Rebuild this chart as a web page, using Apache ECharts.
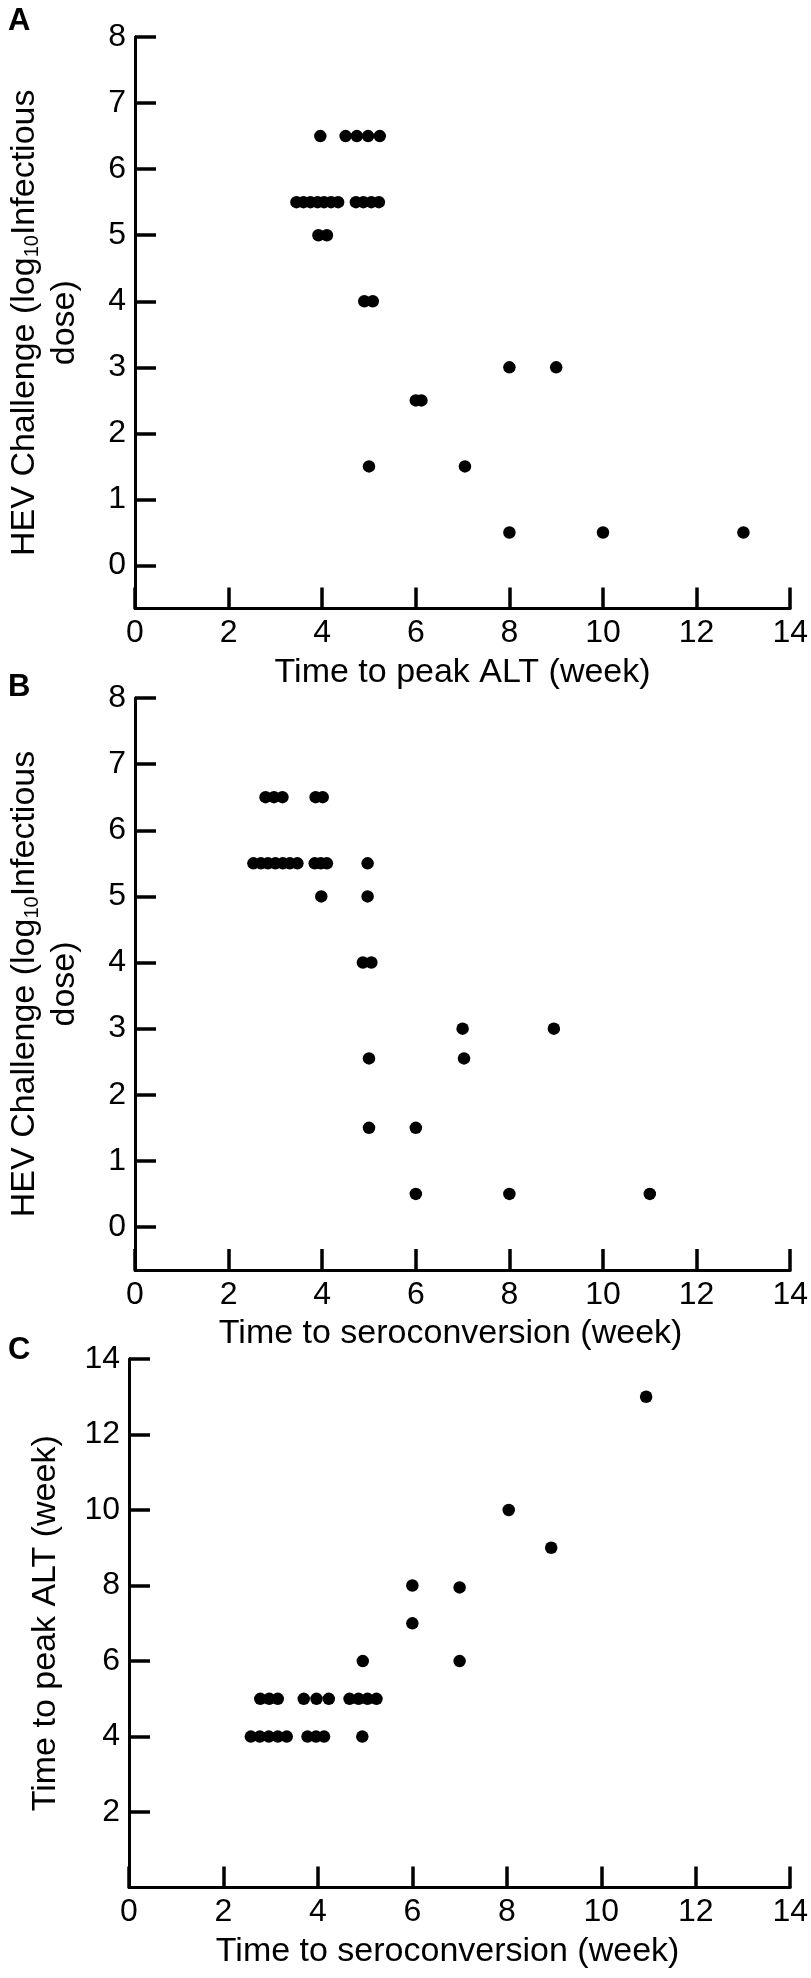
<!DOCTYPE html>
<html>
<head>
<meta charset="utf-8">
<script src="https://cdn.jsdelivr.net/npm/echarts@6/dist/echarts.min.js"></script>
<style>
html,body{margin:0;padding:0;background:#fff;}
#chart{width:811px;height:1978px;}
</style>
</head>
<body>
<div id="chart"></div>
<script>
// ---- Panel A: Time to peak ALT (x) vs HEV challenge dose (y)
const aPeakALT = [3.96, 4.5, 4.74, 4.98, 5.23,
  3.45, 3.6, 3.75, 3.9, 4.04, 4.19, 4.34, 4.72, 4.88, 5.05, 5.21,
  3.92, 4.1,
  4.9, 5.08,
  8, 9,
  6, 6.12,
  5, 7.05,
  8, 10, 13];
const aDose = [6.5, 6.5, 6.5, 6.5, 6.5,
  5.5, 5.5, 5.5, 5.5, 5.5, 5.5, 5.5, 5.5, 5.5, 5.5, 5.5,
  5, 5,
  4, 4,
  3, 3,
  2.5, 2.5,
  1.5, 1.5,
  0.5, 0.5, 0.5];

// ---- Panel B: Time to seroconversion (x) vs HEV challenge dose (y)
const bSero = [2.79, 2.97, 3.15, 3.86, 4.01,
  2.53, 2.69, 2.84, 3.0, 3.16, 3.31, 3.47, 3.84, 3.97, 4.1, 4.97,
  3.98, 4.97,
  4.87, 5.05,
  7, 8.95,
  5, 7.03,
  5, 6,
  6, 8, 11];
const bDose = [6.5, 6.5, 6.5, 6.5, 6.5,
  5.5, 5.5, 5.5, 5.5, 5.5, 5.5, 5.5, 5.5, 5.5, 5.5, 5.5,
  5, 5,
  4, 4,
  3, 3,
  2.55, 2.55,
  1.5, 1.5,
  0.5, 0.5, 0.5];

// ---- Panel C: Time to seroconversion (x) vs time to peak ALT (y)
const cSero = [2.78, 2.97, 3.15, 3.7, 3.97, 4.23, 4.67, 4.86, 5.05, 5.24,
  2.58, 2.77, 2.96, 3.15, 3.34, 3.78, 3.96, 4.13, 4.94,
  4.95, 6, 7, 6, 7, 8.04, 8.94, 10.95];
const cPeakALT = [5, 5, 5, 5, 5, 5, 5, 5, 5, 5,
  4, 4, 4, 4, 4, 4, 4, 4, 4,
  6, 8, 7.95, 7, 6, 10, 9, 13];

// ---- Axis tick labels
const xTicks = [0, 2, 4, 6, 8, 10, 12, 14];
const doseTicks = [0, 1, 2, 3, 4, 5, 6, 7, 8];
const altTicks = [2, 4, 6, 8, 10, 12, 14];

const panelLetters = ['A', 'B', 'C'];
const xTitles = ['Time to peak ALT (week)', 'Time to seroconversion (week)', 'Time to seroconversion (week)'];
const doseTitle = '{m|HEV Challenge (log}{s|10}{m|Infectious}\n{m|dose)}';
const altTitle = 'Time to peak ALT (week)';

const FONT = '"Liberation Sans", Arial, Helvetica, sans-serif';
const grids = [
  {left: 129, top: 37, width: 666, height: 571.5},
  {left: 129, top: 698, width: 666, height: 572},
  {left: 129, top: 1359, width: 666, height: 528.6}
];

function xAxisFor(i) {
  return {
    gridIndex: i, type: 'value', min: 0, max: 14, interval: 2,
    axisLine: {show: true, onZero: false, lineStyle: {color: '#000', width: 3}},
    axisTick: {show: true, inside: true, length: 21, lineStyle: {color: '#000', width: 3.5}},
    axisLabel: {color: '#000', fontSize: 32, margin: 9, fontFamily: FONT,
      customValues: xTicks},
    splitLine: {show: false},
    name: xTitles[i], nameLocation: 'middle', nameGap: 47,
    nameTextStyle: {color: '#000', fontSize: 34, fontFamily: FONT,
      padding: i === 0 ? [0, 0, 0, 0] : [0, 24, 0, 0]}
  };
}
function doseYAxis(i) {
  return {
    gridIndex: i, type: 'value', min: -0.65, max: 8, splitNumber: 8,
    axisLine: {show: true, onZero: false, lineStyle: {color: '#000', width: 3}},
    axisTick: {show: true, inside: true, length: 21, lineStyle: {color: '#000', width: 3.5},
      customValues: doseTicks},
    axisLabel: {color: '#000', fontSize: 32, margin: 9, fontFamily: FONT,
      customValues: doseTicks},
    splitLine: {show: false},
    name: doseTitle, nameLocation: 'middle', nameGap: 50, nameRotate: 90,
    nameTextStyle: {color: '#000', fontFamily: FONT, align: 'center',
      rich: {
        m: {fontSize: 34, lineHeight: 40, color: '#000', fontFamily: FONT},
        s: {fontSize: 20, lineHeight: 40, color: '#000', fontFamily: FONT, padding: [14, 0, 0, 0]}
      }}
  };
}
function altYAxis(i) {
  return {
    gridIndex: i, type: 'value', min: 0, max: 14, interval: 2,
    axisLine: {show: true, onZero: false, lineStyle: {color: '#000', width: 3}},
    axisTick: {show: true, inside: true, length: 21, lineStyle: {color: '#000', width: 3.5},
      customValues: altTicks},
    axisLabel: {color: '#000', fontSize: 32, margin: 9, fontFamily: FONT,
      customValues: altTicks},
    splitLine: {show: false},
    name: altTitle, nameLocation: 'middle', nameGap: 66, nameRotate: 90,
    nameTextStyle: {color: '#000', fontSize: 34, fontFamily: FONT}
  };
}
function zip(xs, ys) { return xs.map((x, k) => [x, ys[k]]); }
function scatter(i, xs, ys) {
  return {type: 'scatter', xAxisIndex: i, yAxisIndex: i, data: zip(xs, ys),
    symbol: 'circle', symbolSize: 12.5, itemStyle: {color: '#000', opacity: 1},
    silent: true, animation: false};
}

const chart = echarts.init(document.getElementById('chart'), null, {renderer: 'canvas'});
chart.setOption({
  backgroundColor: '#fff',
  animation: false,
  title: [
    {text: panelLetters[0], left: 8, top: 6, padding: 0, textStyle: {fontSize: 31, fontWeight: 'bold', color: '#000', fontFamily: FONT}},
    {text: panelLetters[1], left: 8, top: 672, padding: 0, textStyle: {fontSize: 31, fontWeight: 'bold', color: '#000', fontFamily: FONT}},
    {text: panelLetters[2], left: 8, top: 1335, padding: 0, textStyle: {fontSize: 31, fontWeight: 'bold', color: '#000', fontFamily: FONT}}
  ],
  grid: grids,
  xAxis: [xAxisFor(0), xAxisFor(1), xAxisFor(2)],
  yAxis: [doseYAxis(0), doseYAxis(1), altYAxis(2)],
  series: [scatter(0, aPeakALT, aDose), scatter(1, bSero, bDose), scatter(2, cSero, cPeakALT)]
});
</script>
</body>
</html>
